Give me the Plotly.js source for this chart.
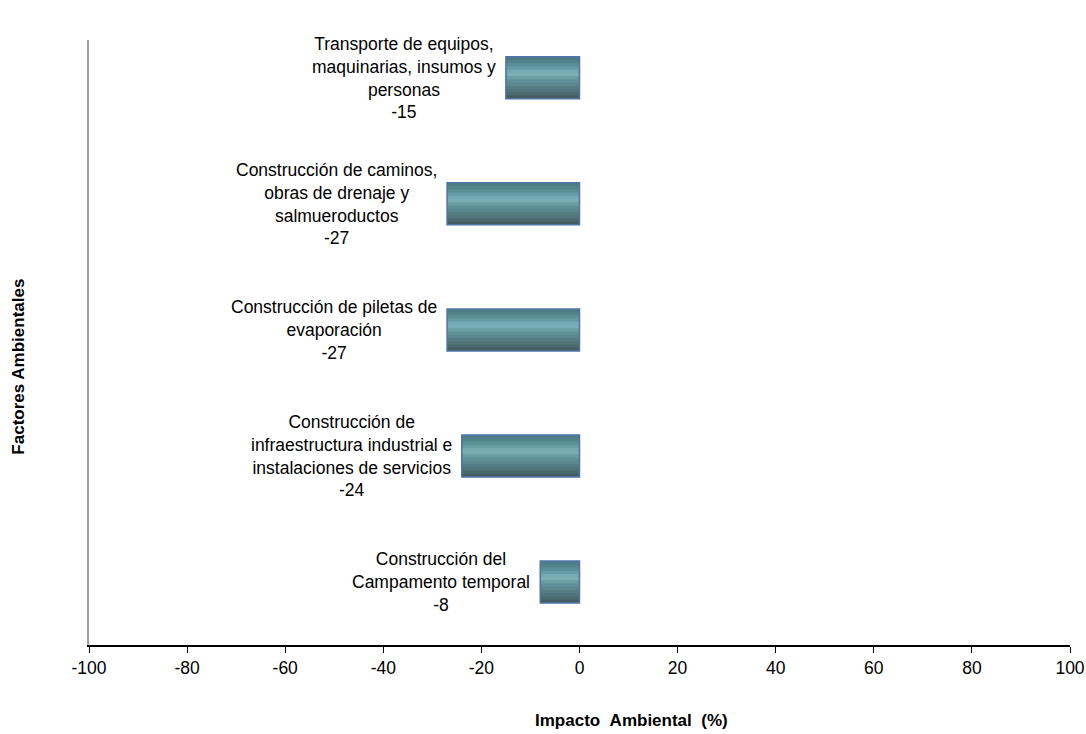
<!DOCTYPE html>
<html>
<head>
<meta charset="utf-8">
<script src="https://cdn.plot.ly/plotly-3.0.1.min.js"></script>
<style>
  html, body { margin: 0; padding: 0; background: #ffffff; }
  #chart { width: 1086px; height: 734px; }
</style>
</head>
<body>
<div id="chart"></div>
<script>
// ---- Data (top to bottom as shown in the chart) ----
const factorLabels = [
  "Transporte de equipos,<br>maquinarias, insumos y<br>personas",
  "Construcción de caminos,<br>obras de drenaje y<br>salmueroductos",
  "Construcción de piletas de<br>evaporación",
  "Construcción de<br>infraestructura industrial e<br>instalaciones de servicios",
  "Construcción del<br>Campamento temporal"
];
const factorKeys = ["Transporte", "Caminos", "Piletas", "Infraestructura", "Campamento"];
const impactValues = [-15, -27, -27, -24, -8];
const xTickValues = [-100, -80, -60, -40, -20, 0, 20, 40, 60, 80, 100];

const xTitle = "Impacto\u00a0\u00a0Ambiental\u00a0\u00a0(%)";
const yTitle = "Factores Ambientales";

// ---- Styling ----
const FONT = "Liberation Sans, Arial, Helvetica, sans-serif";
const BAR_W = 0.333;
// cylinder-like shading, top strip to bottom strip
const stripColors = [
  "#4e7c84", "#53848c", "#5b8f97", "#689ba3", "#76aab2", "#7aadb5",
  "#6b9da5", "#5f9097", "#5a888f", "#557e84", "#50747a", "#4b6a6f", "#465c60"
];

const traces = [];
const n = stripColors.length;
const w = BAR_W / n;
for (let k = 0; k < n; k++) {
  traces.push({
    type: "bar",
    orientation: "h",
    x: impactValues,
    y: factorKeys,
    width: BAR_W - k * w,
    offset: -BAR_W / 2,
    marker: { color: stripColors[k], line: { width: 0 } },
    hoverinfo: "skip",
    showlegend: false
  });
}
// outline
traces.push({
  type: "bar",
  orientation: "h",
  x: impactValues,
  y: factorKeys,
  width: BAR_W,
  offset: -BAR_W / 2,
  marker: { color: "rgba(0,0,0,0)", line: { color: "#4f74a6", width: 1.5 } },
  hovertemplate: "%{x}<extra></extra>",
  showlegend: false
});

const annotations = factorKeys.map((key, i) => ({
  x: impactValues[i],
  y: key,
  xref: "x",
  yref: "y",
  text: factorLabels[i] + "<br>" + impactValues[i],
  xanchor: "right",
  yanchor: "middle",
  xshift: -8,
  align: "center",
  showarrow: false,
  font: { family: FONT, size: 17.5, color: "#000000" }
}));

annotations.push({
  text: xTitle,
  xref: "paper", yref: "paper",
  x: 0.5525, y: -0.124,
  xanchor: "center", yanchor: "middle",
  showarrow: false,
  font: { family: FONT, size: 17, color: "#000000", weight: "bold" }
});
annotations.push({
  text: yTitle,
  xref: "paper", yref: "paper",
  x: -0.0714, y: 0.46,
  xanchor: "center", yanchor: "middle",
  textangle: -90,
  showarrow: false,
  font: { family: FONT, size: 17, color: "#000000", weight: "bold" }
});

const layout = {
  width: 1086,
  height: 734,
  margin: { l: 89, r: 16, t: 40, b: 89 },
  paper_bgcolor: "#ffffff",
  plot_bgcolor: "#ffffff",
  barmode: "overlay",
  showlegend: false,
  font: { family: FONT, size: 17, color: "#000000" },
  xaxis: {
    range: [-100, 100],
    tickvals: xTickValues,
    ticktext: xTickValues.map(String),
    ticks: "outside",
    ticklen: 6,
    tickwidth: 1,
    tickcolor: "#000000",
    showline: true,
    linecolor: "#000000",
    linewidth: 1.5,
    showgrid: false,
    zeroline: false,
    tickfont: { family: FONT, size: 17.5, color: "#000000" },
    fixedrange: true
  },
  yaxis: {
    type: "category",
    categoryorder: "array",
    categoryarray: factorKeys.slice().reverse(),
    range: [-0.5, 4.3],
    showline: true,
    linecolor: "#a0a0a0",
    linewidth: 2,
    showticklabels: false,
    ticks: "",
    showgrid: false,
    zeroline: false,
    fixedrange: true
  },
  annotations: annotations
};

Plotly.newPlot("chart", traces, layout, { displayModeBar: false, staticPlot: false });
</script>
</body>
</html>
